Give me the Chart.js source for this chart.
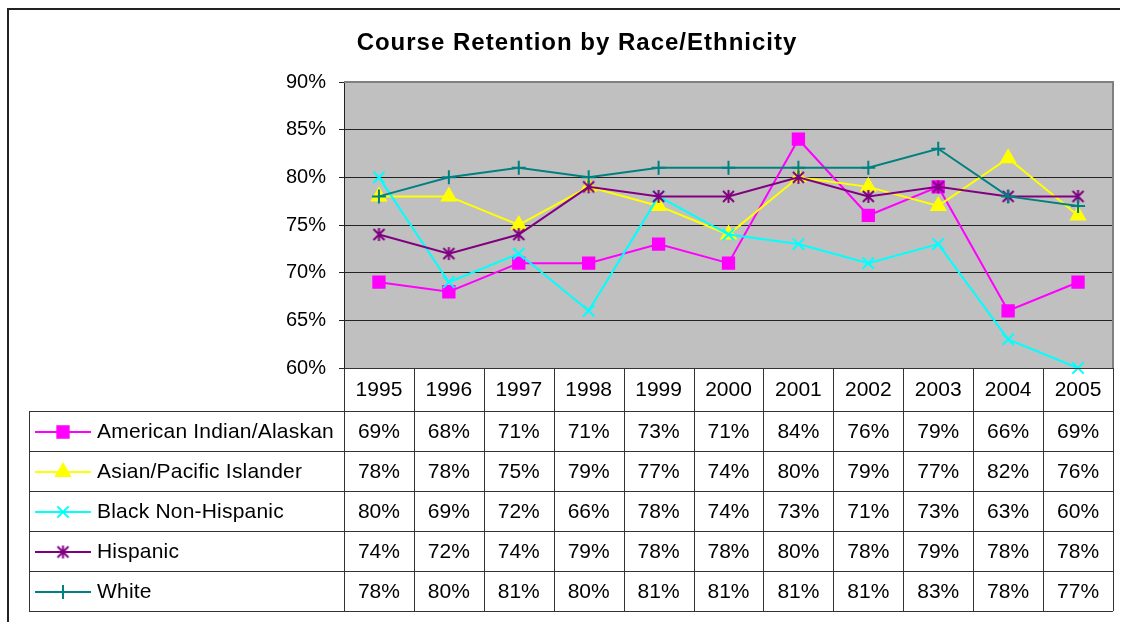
<!DOCTYPE html>
<html lang="en">
<head>
    <meta charset="UTF-8">
    <title>Course Retention by Race/Ethnicity</title>
    <script src="https://cdn.jsdelivr.net/npm/chart.js"></script>
    <style>
        body {
            margin: 0;
            padding: 0;
            background-color: #fff;
        }
        .chart-box {
            width: 1123px;
            height: 622px;
        }
    </style>
</head>
<body>
    <div class="chart-box">
        <canvas id="retentionChart" width="1123" height="622"></canvas>
    </div>

    <script>
        const years = ['1995', '1996', '1997', '1998', '1999', '2000', '2001', '2002', '2003', '2004', '2005'];
        const americanIndian = [69, 68, 71, 71, 73, 71, 84, 76, 79, 66, 69];
        const asianPacific = [78, 78, 75, 79, 77, 74, 80, 79, 77, 82, 76];
        const blackNonHispanic = [80, 69, 72, 66, 78, 74, 73, 71, 73, 63, 60];
        const hispanic = [74, 72, 74, 79, 78, 78, 80, 78, 79, 78, 78];
        const white = [78, 80, 81, 80, 81, 81, 81, 81, 83, 78, 77];

        const seriesNames = ['American Indian/Alaskan', 'Asian/Pacific Islander', 'Black Non-Hispanic', 'Hispanic', 'White'];
        const seriesData = [americanIndian, asianPacific, blackNonHispanic, hispanic, white];
        const seriesColors = ['#FF00FF', '#FFFF00', '#00FFFF', '#800080', '#008080'];

        const fontFamily = 'Arial, "Liberation Sans", sans-serif';

        // Excel style asterisk: an X with a vertical bar through it
        function makeStar(color) {
            const c = document.createElement('canvas');
            c.width = 15;
            c.height = 15;
            const g = c.getContext('2d');
            g.strokeStyle = color;
            g.lineWidth = 2;
            g.beginPath();
            g.moveTo(2, 2); g.lineTo(13, 13);
            g.moveTo(13, 2); g.lineTo(2, 13);
            g.moveTo(7.5, 1); g.lineTo(7.5, 14);
            g.stroke();
            return c;
        }

        const seriesMarkers = ['rect', 'triangle', 'crossRot', makeStar('#800080'), 'cross'];
        const markerSizes = [8, 8, 8, 7, 7];

        // grey plot area + its border
        const plotBackground = {
            id: 'plotBackground',
            beforeDraw(chart) {
                const { ctx, chartArea: a } = chart;
                ctx.save();
                ctx.fillStyle = '#C0C0C0';
                ctx.fillRect(a.left, a.top, a.right - a.left, a.bottom - a.top);
                ctx.restore();
            },
            beforeDatasetsDraw(chart) {
                const { ctx, chartArea: a } = chart;
                ctx.save();
                ctx.strokeStyle = '#808080';
                ctx.lineWidth = 2;
                ctx.beginPath();
                ctx.moveTo(a.left, a.top);
                ctx.lineTo(a.right, a.top);
                ctx.lineTo(a.right, a.bottom);
                ctx.stroke();
                ctx.restore();
            }
        };

        // title, data table with legend keys, outer frame
        const dataTable = {
            id: 'dataTable',
            afterDraw(chart) {
                const { ctx, chartArea: a } = chart;
                const x = chart.scales.x;
                const colW = x.getPixelForValue(1) - x.getPixelForValue(0);
                const legendLeft = 29;
                const headTop = a.bottom;
                const headBottom = 411;
                const rowH = 40;
                const tableBottom = headBottom + rowH * seriesNames.length;

                ctx.save();

                // outer frame
                ctx.strokeStyle = '#222';
                ctx.lineWidth = 2;
                ctx.beginPath();
                ctx.moveTo(8, 622);
                ctx.lineTo(8, 9);
                ctx.lineTo(1120, 9);
                ctx.stroke();

                // title
                ctx.fillStyle = '#000';
                ctx.font = 'bold 24px ' + fontFamily;
                ctx.textAlign = 'center';
                ctx.textBaseline = 'middle';
                ctx.letterSpacing = '1px';
                ctx.fillText('Course Retention by Race/Ethnicity', 577, 43);
                ctx.letterSpacing = '0px';

                // table grid
                ctx.strokeStyle = '#333';
                ctx.lineWidth = 1;
                ctx.beginPath();
                ctx.moveTo(a.left, headTop + 0.5);
                ctx.lineTo(a.right, headTop + 0.5);
                for (let r = 0; r <= seriesNames.length; r++) {
                    const y = Math.round(headBottom + r * rowH) + 0.5;
                    ctx.moveTo(legendLeft, y);
                    ctx.lineTo(a.right, y);
                }
                ctx.moveTo(legendLeft + 0.5, headBottom);
                ctx.lineTo(legendLeft + 0.5, tableBottom);
                for (let c = 0; c <= years.length; c++) {
                    const cx = Math.round(a.left + c * colW) + 0.5;
                    ctx.moveTo(cx, headTop);
                    ctx.lineTo(cx, tableBottom);
                }
                ctx.stroke();

                // year header
                ctx.font = '21px ' + fontFamily;
                ctx.fillStyle = '#000';
                years.forEach((yr, i) => {
                    ctx.fillText(yr, x.getPixelForValue(i), (headTop + headBottom) / 2 + 1);
                });

                // rows
                seriesNames.forEach((name, r) => {
                    const yMid = headBottom + r * rowH + rowH / 2 + 1;
                    // legend key
                    ctx.strokeStyle = seriesColors[r];
                    ctx.fillStyle = seriesColors[r];
                    ctx.lineWidth = 2;
                    ctx.beginPath();
                    ctx.moveTo(35, yMid);
                    ctx.lineTo(91, yMid);
                    ctx.stroke();
                    Chart.helpers.drawPoint(ctx, {
                        pointStyle: seriesMarkers[r],
                        radius: markerSizes[r],
                        rotation: 0,
                        borderWidth: 2
                    }, 63, yMid);

                    ctx.fillStyle = '#000';
                    ctx.textAlign = 'left';
                    ctx.letterSpacing = '0.2px';
                    ctx.fillText(name, 97, yMid);
                    ctx.letterSpacing = '0px';
                    ctx.textAlign = 'center';
                    seriesData[r].forEach((v, i) => {
                        ctx.fillText(v + '%', x.getPixelForValue(i), yMid);
                    });
                });

                ctx.restore();
            }
        };

        const datasets = seriesNames.map((name, i) => ({
            label: name,
            data: seriesData[i],
            borderColor: seriesColors[i],
            backgroundColor: seriesColors[i],
            borderWidth: 2,
            pointStyle: seriesMarkers[i],
            pointRadius: markerSizes[i],
            pointBorderWidth: 2,
            tension: 0,
            clip: false,
            order: seriesNames.length - i
        }));

        const ctx = document.getElementById('retentionChart').getContext('2d');
        const retentionChart = new Chart(ctx, {
            type: 'line',
            data: {
                labels: years,
                datasets: datasets
            },
            options: {
                responsive: false,
                animation: false,
                events: [],
                layout: {
                    padding: { left: 0, top: 82, right: 7, bottom: 254 }
                },
                plugins: {
                    legend: { display: false },
                    title: { display: false },
                    tooltip: { enabled: false }
                },
                scales: {
                    x: {
                        display: false,
                        offset: true
                    },
                    y: {
                        min: 60,
                        max: 90,
                        afterFit(scale) { scale.width = 344; },
                        ticks: {
                            stepSize: 5,
                            padding: 13,
                            color: '#000',
                            font: { family: fontFamily, size: 20 },
                            callback: v => v + '%'
                        },
                        grid: {
                            color: '#222',
                            lineWidth: 1,
                            tickLength: 5
                        },
                        border: { color: '#222', width: 1 }
                    }
                }
            },
            plugins: [plotBackground, dataTable]
        });
    </script>
</body>
</html>
